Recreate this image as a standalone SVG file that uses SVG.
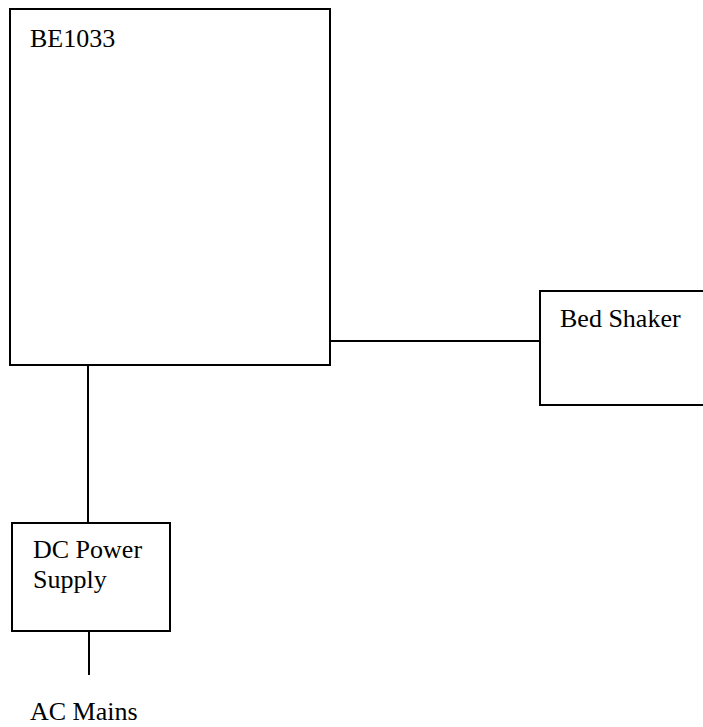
<svg xmlns="http://www.w3.org/2000/svg" width="703" height="727" viewBox="0 0 703 727">
<style>
.box{fill:#fff;stroke:#000;stroke-width:2}
.ln{stroke:#000;stroke-width:2;fill:none}
text{font-family:"Liberation Serif","Times New Roman",serif;font-size:26px;fill:#000}
</style>
<rect width="703" height="727" fill="#fff"/>
<g id="connectors">
<line class="ln" x1="330" y1="341" x2="540" y2="341"/>
<line class="ln" x1="88" y1="365" x2="88" y2="523"/>
<line class="ln" x1="89" y1="631" x2="89" y2="675"/>
</g>
<g id="be1033">
<rect class="box" x="10" y="9" width="320" height="356"/>
<text x="30" y="47">BE1033</text>
</g>
<g id="bed-shaker">
<rect class="box" x="540" y="291" width="170" height="114"/>
<text x="560" y="327">Bed Shaker</text>
</g>
<g id="dc-power-supply">
<rect class="box" x="12" y="523" width="158" height="108"/>
<text x="33" y="558">DC Power</text>
<text x="33" y="588">Supply</text>
</g>
<g id="ac-mains">
<text x="30" y="720">AC Mains</text>
</g>
</svg>
